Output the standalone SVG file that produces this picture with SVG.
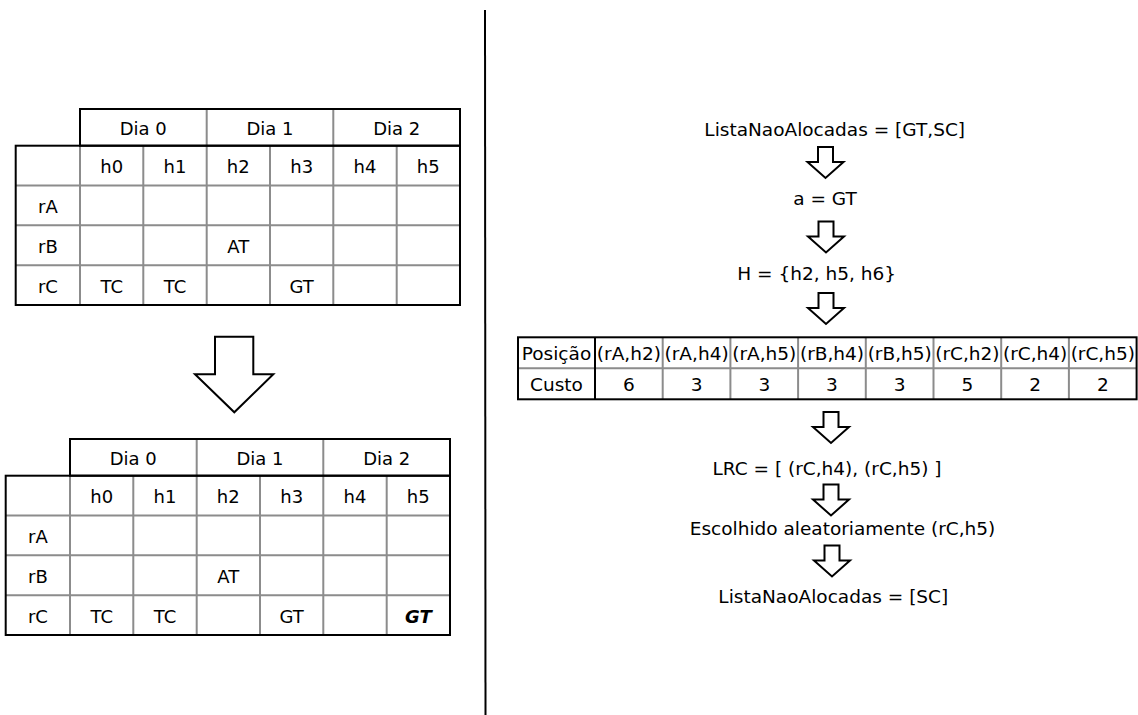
<svg xmlns="http://www.w3.org/2000/svg" width="1138" height="715" viewBox="0 0 1138 715">
<style>
text{font-family:"DejaVu Sans","Liberation Sans",sans-serif;fill:#000}
.t{font-size:18px;text-anchor:middle}
.r{font-size:18.5px;text-anchor:middle}
.g{stroke:#8c8c8c;stroke-width:2;fill:none}
.k{stroke:#000;stroke-width:2;fill:none}
.arr{fill:#fff;stroke:#000;stroke-width:2;stroke-linejoin:miter}
.bi{font-weight:bold;font-style:italic}
</style>
<defs>
<path id="sa" d="M -7.5 0 H 7.5 V 15 H 18 L 0 31 L -18 15 H -7.5 Z"/>
<g id="grid">
<path class="g" d="M206.7 109V145.7M333.3 109V145.7M80 145.7V305M143.3 145.7V305M206.7 145.7V305M270 145.7V305M333.3 145.7V305M396.7 145.7V305M15.7 185.5H460M15.7 225.3H460M15.7 265.2H460"/>
<rect class="k" x="80" y="109" width="380" height="36.7"/>
<rect class="k" x="15.7" y="145.7" width="444.3" height="159.3"/>
</g>
</defs>
<g id="divider"><line class="k" x1="485" y1="10" x2="485.5" y2="715"/></g>
<g id="table-before">
<use href="#grid"/>
<text class="t" x="143.3" y="134.5">Dia 0</text>
<text class="t" x="270" y="134.5">Dia 1</text>
<text class="t" x="396.7" y="134.5">Dia 2</text>
<text class="t" x="111.7" y="172.7">h0</text>
<text class="t" x="175" y="172.7">h1</text>
<text class="t" x="238.3" y="172.7">h2</text>
<text class="t" x="301.7" y="172.7">h3</text>
<text class="t" x="365" y="172.7">h4</text>
<text class="t" x="428.3" y="172.7">h5</text>
<text class="t" x="47.9" y="212.5">rA</text>
<text class="t" x="47.9" y="252.5">rB</text>
<text class="t" x="47.9" y="292.5">rC</text>
<text class="t" x="238.3" y="252.5">AT</text>
<text class="t" x="111.7" y="292.5">TC</text>
<text class="t" x="175" y="292.5">TC</text>
<text class="t" x="301.7" y="292.5">GT</text>
</g>
<g id="big-arrow"><path class="arr" d="M215 336.7H253.3V374.3H273.3L234.3 412.3L195 374.3H215Z"/></g>
<g id="table-after" transform="translate(-10,330)">
<use href="#grid"/>
<text class="t" x="143.3" y="134.5">Dia 0</text>
<text class="t" x="270" y="134.5">Dia 1</text>
<text class="t" x="396.7" y="134.5">Dia 2</text>
<text class="t" x="111.7" y="172.7">h0</text>
<text class="t" x="175" y="172.7">h1</text>
<text class="t" x="238.3" y="172.7">h2</text>
<text class="t" x="301.7" y="172.7">h3</text>
<text class="t" x="365" y="172.7">h4</text>
<text class="t" x="428.3" y="172.7">h5</text>
<text class="t" x="47.9" y="212.5">rA</text>
<text class="t" x="47.9" y="252.5">rB</text>
<text class="t" x="47.9" y="292.5">rC</text>
<text class="t" x="238.3" y="252.5">AT</text>
<text class="t" x="111.7" y="292.5">TC</text>
<text class="t" x="175" y="292.5">TC</text>
<text class="t" x="301.7" y="292.5">GT</text>
<text class="t bi" x="428.3" y="292.5">GT</text>
</g>
<g id="step-lista"><text class="r" x="834.7" y="136">ListaNaoAlocadas = [GT,SC]</text></g>
<g id="step-a"><text class="r" x="825" y="205">a = GT</text></g>
<g id="step-h"><text class="r" x="816.7" y="279.5">H = {h2, h5, h6}</text></g>
<g id="table-cost">
<path class="g" d="M662.7 337.3V399.3M730.4 337.3V399.3M798.1 337.3V399.3M865.8 337.3V399.3M933.5 337.3V399.3M1001.2 337.3V399.3M1068.9 337.3V399.3M518 368.3H1136.6"/>
<rect class="k" x="518" y="337.3" width="618.6" height="62"/>
<line class="k" x1="595" y1="337.3" x2="595" y2="399.3"/>
<text class="r" x="556.5" y="359.5">Posição</text>
<text class="r" x="556.5" y="390.5">Custo</text>
<text class="r" x="628.9" y="359.5">(rA,h2)</text>
<text class="r" x="696.6" y="359.5">(rA,h4)</text>
<text class="r" x="764.3" y="359.5">(rA,h5)</text>
<text class="r" x="832" y="359.5">(rB,h4)</text>
<text class="r" x="899.7" y="359.5">(rB,h5)</text>
<text class="r" x="967.4" y="359.5">(rC,h2)</text>
<text class="r" x="1035.1" y="359.5">(rC,h4)</text>
<text class="r" x="1102.8" y="359.5">(rC,h5)</text>
<text class="r" x="628.9" y="390.5">6</text>
<text class="r" x="696.6" y="390.5">3</text>
<text class="r" x="764.3" y="390.5">3</text>
<text class="r" x="832" y="390.5">3</text>
<text class="r" x="899.7" y="390.5">3</text>
<text class="r" x="967.4" y="390.5">5</text>
<text class="r" x="1035.1" y="390.5">2</text>
<text class="r" x="1102.8" y="390.5">2</text>
</g>
<g id="step-lrc"><text class="r" x="827" y="475">LRC = [ (rC,h4), (rC,h5) ]</text></g>
<g id="step-escolhido"><text class="r" x="842.5" y="535">Escolhido aleatoriamente (rC,h5)</text></g>
<g id="step-final"><text class="r" x="833.3" y="602.5">ListaNaoAlocadas = [SC]</text></g>
<g id="connectors">
<use href="#sa" class="arr" x="825.5" y="147"/>
<use href="#sa" class="arr" x="826" y="221.5"/>
<use href="#sa" class="arr" x="826" y="293"/>
<use href="#sa" class="arr" x="831" y="412"/>
<use href="#sa" class="arr" x="831" y="484.5"/>
<use href="#sa" class="arr" x="832" y="545.5"/>
</g>
</svg>
